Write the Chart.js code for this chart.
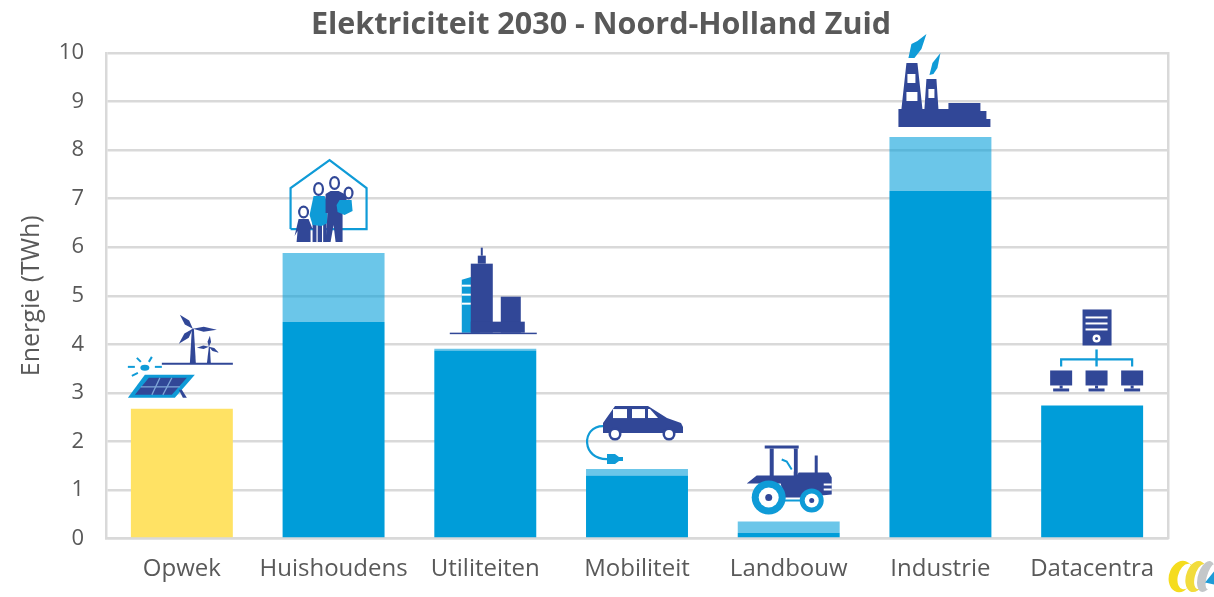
<!DOCTYPE html>
<html>
<head>
<meta charset="utf-8">
<title>Elektriciteit 2030</title>
<style>
  html, body { margin: 0; padding: 0; background: #fff; }
  #wrap { width: 1214px; height: 597px; }
</style>
<script src="https://cdn.jsdelivr.net/npm/chart.js@4"></script>
</head>
<body>
<div id="wrap"><canvas id="chart" width="1214" height="597"></canvas></div>
<script>
const categories = ['Opwek', 'Huishoudens', 'Utiliteiten', 'Mobiliteit', 'Landbouw', 'Industrie', 'Datacentra'];
const baseValues = [2.67, 4.46, 3.87, 1.30, 0.12, 7.16, 2.74];
const extraValues = [0, 1.42, 0.04, 0.13, 0.23, 1.11, 0];
const baseColors = ['#FFE264', '#009DD9', '#009DD9', '#009DD9', '#009DD9', '#009DD9', '#009DD9'];
const chartTitle = 'Elektriciteit 2030 - Noord-Holland Zuid';
const axisTitle = 'Energie (TWh)';

const DARK = '#314797';
const LIGHT = '#0F9BD7';
const GRID = '#D9D9D9';
const TEXT = '#595959';
const FONT = '"Open Sans", sans-serif';

// small drawing helpers for the pictograms
function poly(ctx, pts, color) {
    ctx.fillStyle = color;
    ctx.beginPath();
    pts.forEach((p, i) => i ? ctx.lineTo(p[0], p[1]) : ctx.moveTo(p[0], p[1]));
    ctx.closePath();
    ctx.fill();
}
function box(ctx, x1, y1, x2, y2, color) {
    ctx.fillStyle = color;
    ctx.fillRect(x1, y1, x2 - x1, y2 - y1);
}
function line(ctx, pts, color, width) {
    ctx.strokeStyle = color;
    ctx.lineWidth = width;
    ctx.beginPath();
    pts.forEach((p, i) => i ? ctx.lineTo(p[0], p[1]) : ctx.moveTo(p[0], p[1]));
    ctx.stroke();
}
function dot(ctx, x, y, rx, ry, color) {
    ctx.fillStyle = color;
    ctx.beginPath();
    ctx.ellipse(x, y, rx, ry, 0, 0, Math.PI * 2);
    ctx.fill();
}
function blade(ctx, hx, hy, tx, ty, w) {
    const dx = tx - hx, dy = ty - hy;
    const nx = -dy / Math.hypot(dx, dy) * w, ny = dx / Math.hypot(dx, dy) * w;
    poly(ctx, [[hx, hy], [hx + dx * 0.45 + nx, hy + dy * 0.45 + ny], [tx, ty], [hx + dx * 0.45 - nx, hy + dy * 0.45 - ny]], DARK);
}

// each icon is drawn around the bar centre (x = 0) and the bar top (y = 0)
const icons = [
    function opwek(ctx) {
        poly(ctx, [[-54, -11], [-37, -34], [13, -34], [-7, -11]], LIGHT);
        poly(ctx, [[-47, -14], [-33, -31], [5, -31], [-10, -14]], DARK);
        line(ctx, [[-41, -22], [-2, -22]], '#7FA6D8', 1.2);
        line(ctx, [[-22, -31], [-30, -14]], '#7FA6D8', 1.2);
        line(ctx, [[-10, -31], [-19, -14]], '#7FA6D8', 1.2);
        poly(ctx, [[-3, -19], [0, -19], [5, -11], [1, -11]], DARK);
        dot(ctx, -37, -41, 4.5, 3, LIGHT);
        [[-54, -42, -47, -42], [-45, -51, -41, -47], [-30, -52, -33, -47], [-27, -42, -20, -42], [-50, -33, -44, -36]]
            .forEach(r => line(ctx, [[r[0], r[1]], [r[2], r[3]]], LIGHT, 2));
        line(ctx, [[-20, -45], [51, -45]], DARK, 2);
        poly(ctx, [[8, -45], [14, -45], [12, -80], [10, -80]], DARK);
        blade(ctx, 11, -80, -2, -94, 3);
        blade(ctx, 11, -80, -3, -65, 3);
        blade(ctx, 11, -80, 35, -79, 2.5);
        poly(ctx, [[25, -45], [29, -45], [28, -62], [27, -62]], DARK);
        blade(ctx, 27, -62, 28, -73, 1.8);
        blade(ctx, 27, -62, 15, -61, 1.8);
        blade(ctx, 27, -62, 37, -56, 1.8);
    },
    function huishoudens(ctx) {
        line(ctx, [[-43, -24], [-43, -65], [-4, -93], [33, -65], [33, -24], [-43, -24]], LIGHT, 2.2);
        const head = (x, y, rx, ry) => { dot(ctx, x, y, rx, ry, DARK); dot(ctx, x, y, rx - 2.2, ry - 2.2, '#fff'); };
        // child
        head(-30, -41, 5.5, 6.5);
        poly(ctx, [[-35, -34], [-25, -34], [-21, -24], [-23, -24], [-23, -11], [-37, -11], [-36, -22], [-39, -17]], DARK);
        // woman
        head(-15, -64, 5.5, 7);
        box(ctx, -21, -30, -7, -11, DARK);
        line(ctx, [[-16.5, -29], [-16.5, -11]], '#fff', 1.2);
        line(ctx, [[-11, -29], [-11, -11]], '#fff', 1.2);
        poly(ctx, [[-20, -57], [-9, -57], [-6, -50], [-6, -30], [-12, -27], [-21, -28], [-24, -38]], LIGHT);
        // man
        head(1, -70, 5.5, 7);
        poly(ctx, [[-8, -59], [-3, -62], [5, -62], [13, -58], [13, -40], [9, -40], [9, -11], [14, -11], [2, -11], [0, -28], [-3, -11], [-8, -11], [-6, -40], [-8, -40]], DARK);
        // baby
        head(15, -60, 5, 6.5);
        poly(ctx, [[6, -53], [18, -53], [19, -42], [11, -38], [4, -41], [3, -48]], LIGHT);
    },
    function utiliteiten(ctx) {
        poly(ctx, [[-23.5, -69], [-10, -73], [-5.5, -72], [-5.5, -16], [-23.5, -16]], LIGHT);
        [-63, -54, -45].forEach(y => box(ctx, -23.5, y - 1, -13, y + 1, '#fff'));
        box(ctx, -14.5, -85, 7.5, -16, DARK);
        box(ctx, -7.5, -93, 0.5, -85, DARK);
        box(ctx, -4.5, -101, -2.5, -93, DARK);
        box(ctx, 15.5, -52, 35.5, -16, DARK);
        box(ctx, -14.5, -27, 39.5, -16, DARK);
        box(ctx, -35.5, -16, 51.5, -14.5, DARK);
    },
    function mobiliteit(ctx) {
        ctx.strokeStyle = LIGHT;
        ctx.lineWidth = 2.2;
        ctx.beginPath();
        ctx.moveTo(-34, -43);
        ctx.bezierCurveTo(-56, -43, -56, -9, -29, -10);
        ctx.stroke();
        poly(ctx, [[-30, -15], [-22, -15], [-18, -12], [-14, -12], [-14, -8], [-18, -8], [-22, -5], [-30, -5]], LIGHT);
        poly(ctx, [[-34, -36], [-34, -46], [-22, -63], [11, -63], [30, -51], [44, -46], [46, -42], [46, -36]], DARK);
        box(ctx, -24, -60, -10, -51, '#fff');
        box(ctx, -5, -60, 8, -51, '#fff');
        poly(ctx, [[11, -60], [13, -60], [21, -51], [11, -51]], '#fff');
        [-22, 32].forEach(x => { dot(ctx, x, -35, 6.5, 6.5, DARK); dot(ctx, x, -35, 4, 4, '#fff'); });
    },
    function landbouw(ctx) {
        box(ctx, -24, -76, 10, -73, DARK);
        box(ctx, -19, -73, -15, -44, DARK);
        box(ctx, 5, -73, 9, -44, DARK);
        box(ctx, 26, -66, 29, -46, DARK);
        poly(ctx, [[-42, -38], [-32, -46], [8, -46], [10, -49], [40, -49], [43, -44], [43, -27], [11, -24], [-5, -24], [-8, -38]], DARK);
        poly(ctx, [[-12, -72], [5, -72], [5, -50], [-12, -50]], '#fff');
        line(ctx, [[-7, -62], [-2, -60], [3, -52]], LIGHT, 2);
        box(ctx, 35, -38, 43, -36, '#fff');
        box(ctx, 35, -33, 43, -31, '#fff');
        line(ctx, [[-4, -21], [14, -21]], LIGHT, 2);
        dot(ctx, -20, -24, 17, 17, LIGHT);
        dot(ctx, -20, -24, 10, 10, '#fff');
        dot(ctx, -20, -24, 3.5, 3.5, DARK);
        dot(ctx, 23, -21, 12, 12, LIGHT);
        dot(ctx, 23, -21, 7, 7, '#fff');
        dot(ctx, 23, -21, 2.5, 2.5, DARK);
    },
    function industrie(ctx) {
        poly(ctx, [[-42, -10], [50, -10], [50, -18], [46, -18], [46, -26], [40, -26], [40, -34], [8, -34], [8, -28], [-2, -28],
            [-4, -58], [-14, -58], [-16, -28], [-18, -28], [-23, -74], [-34, -74], [-39, -28], [-42, -28]], DARK);
        box(ctx, -33, -63, -25, -54, '#fff');
        box(ctx, -34, -45, -23, -36, '#fff');
        box(ctx, -12, -48, -6, -39, '#fff');
        poly(ctx, [[-32, -79], [-29, -93], [-23, -96], [-14, -103], [-19, -88], [-26, -79]], LIGHT);
        poly(ctx, [[-11, -62], [-8, -74], [0, -84], [-3, -69], [-7, -63]], LIGHT);
    },
    function datacentra(ctx) {
        box(ctx, -9.6, -96, 19.4, -60, DARK);
        [-88, -82, -76].forEach(y => box(ctx, -6.6, y - 1, 15.4, y + 1, '#fff'));
        dot(ctx, 4.4, -67, 4, 4, '#fff');
        dot(ctx, 4.4, -67, 1.5, 1.5, DARK);
        line(ctx, [[4.4, -56], [4.4, -39]], LIGHT, 2.4);
        line(ctx, [[-31, -39], [-31, -46], [40, -46], [40, -39]], LIGHT, 2.2);
        [-31, 4.4, 40].forEach(x => {
            box(ctx, x - 11, -35, x + 11, -20, DARK);
            box(ctx, x - 1.5, -20, x + 1.5, -17, DARK);
            box(ctx, x - 8, -17, x + 8, -14, DARK);
        });
    }
];

const iconPlugin = {
    id: 'icons',
    afterDatasetsDraw(chart) {
        const ctx = chart.ctx;
        const xScale = chart.scales.x;
        const yScale = chart.scales.y;
        categories.forEach((name, i) => {
            ctx.save();
            ctx.translate(xScale.getPixelForValue(i), yScale.getPixelForValue(baseValues[i] + extraValues[i]));
            icons[i](ctx);
            ctx.restore();
        });
        // logo in the bottom corner
        const area = chart.chartArea;
        ctx.save();
        ctx.translate(area.right, area.bottom);
        const crescent = (cx, rx, color) => {
            ctx.fillStyle = color;
            ctx.beginPath();
            ctx.ellipse(cx, 38, rx, 16, 0.3, Math.PI * 0.3, Math.PI * 1.7);
            ctx.ellipse(cx + 5, 38, rx - 4, 13, 0.3, Math.PI * 1.7, Math.PI * 0.3, true);
            ctx.closePath();
            ctx.fill();
        };
        crescent(13, 12, '#F5DC1E');
        crescent(28, 10, '#F2DC3C');
        crescent(38, 8, '#C4C7C9');
        poly(ctx, [[37, 44], [46, 33], [46, 46]], '#1E9BD7');
        ctx.restore();
    }
};

new Chart(document.getElementById('chart'), {
    type: 'bar',
    data: {
        labels: categories,
        datasets: [
            { label: 'Basis', data: baseValues, backgroundColor: baseColors },
            { label: 'Extra', data: extraValues, backgroundColor: 'rgba(0, 157, 217, 0.58)' }
        ]
    },
    options: {
        responsive: false,
        animation: false,
        layout: { padding: { top: 7, right: 12, left: 0, bottom: 0 } },
        datasets: { bar: { categoryPercentage: 1, barPercentage: 0.672 } },
        plugins: {
            legend: { display: false },
            tooltip: { enabled: false },
            title: {
                display: true,
                text: chartTitle,
                color: TEXT,
                font: { family: FONT, size: 30.5, weight: 'bold' },
                padding: { top: 0, bottom: 9.4 }
            }
        },
        scales: {
            x: {
                stacked: true,
                grid: { display: false, drawTicks: false },
                border: { display: true, color: GRID, width: 2.5 },
                ticks: { color: TEXT, font: { family: FONT, size: 24 }, padding: 16, maxRotation: 0 },
                afterFit: s => { s.height = 58.5; }
            },
            y: {
                stacked: true,
                min: 0,
                max: 10,
                grid: { color: GRID, lineWidth: 2.5, drawTicks: false },
                border: { color: GRID, width: 2.5 },
                ticks: { stepSize: 1, color: TEXT, font: { family: FONT, size: 22 }, padding: 22 },
                title: { display: true, text: axisTitle, color: TEXT, font: { family: FONT, size: 25 }, padding: { top: 17, bottom: 0 } },
                afterFit: s => { s.width = 106; }
            },
            right: {
                position: 'right',
                min: 0,
                max: 10,
                grid: { display: false, drawTicks: false },
                border: { color: GRID, width: 2.5 },
                ticks: { display: false },
                afterFit: s => { s.width = 34; }
            }
        }
    },
    plugins: [iconPlugin]
});
</script>
</body>
</html>
